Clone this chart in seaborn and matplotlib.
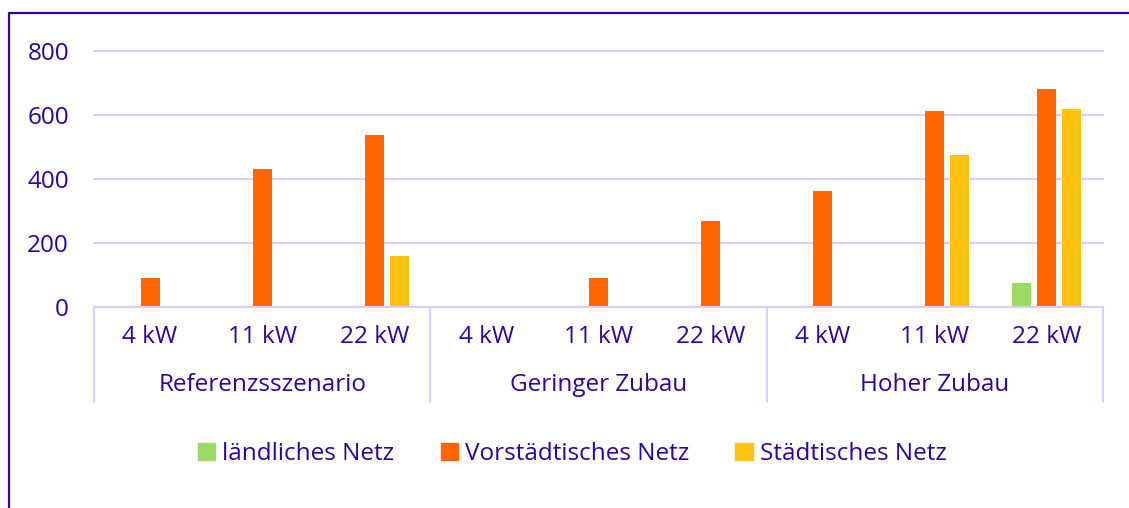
import pandas as pd
import matplotlib.pyplot as plt
import matplotlib.transforms as mtransforms
from matplotlib.lines import Line2D
import seaborn as sns

# chart data
scenarios = ["Referenzsszenario", "Geringer Zubau", "Hoher Zubau"]
power_levels = ["4 kW", "11 kW", "22 kW"]
networks = ["ländliches Netz", "Vorstädtisches Netz", "Städtisches Netz"]

laendlich = [0, 0, 0, 0, 0, 0, 0, 0, 75]
vorstaedtisch = [90, 430, 537, 0, 90, 270, 362, 612, 681]
staedtisch = [0, 0, 160, 0, 0, 0, 0, 475, 619]

y_ticks = [0, 200, 400, 600, 800]

colors = ["#9BDB63", "#FF6600", "#FFC20E"]
text_color = "#330099"
grid_color = "#DDCCFF"
fs = 17.5

# long table for seaborn
cats = [f"{s}|{p}" for s in scenarios for p in power_levels]
rows = []
for name, vals in zip(networks, [laendlich, vorstaedtisch, staedtisch]):
    for c, v in zip(cats, vals):
        rows.append({"cat": c, "network": name, "value": v})
df = pd.DataFrame(rows)

sns.set_style("white")
plt.rcParams["font.family"] = ["Open Sans", "DejaVu Sans"]

fig = plt.figure(figsize=(11.29, 5.08), dpi=100)
ax = fig.add_axes([94 / 1129, 1 - 307 / 508, 1009 / 1129, 256 / 508])

sns.barplot(data=df, x="cat", y="value", hue="network", order=cats,
            hue_order=networks, palette=colors, width=0.67, gap=0.24,
            linewidth=0, saturation=1, ax=ax, legend=False)

ax.set_xlim(-0.5, len(cats) - 0.5)
ax.set_ylim(0, 800)
ax.set_yticks(y_ticks)
ax.set_yticklabels([str(t) for t in y_ticks], color=text_color, fontsize=fs)
ax.tick_params(axis="y", length=0, pad=18)
ax.set_xticks([])
ax.set_xlabel("")
ax.set_ylabel("")
for side in ["top", "right", "left"]:
    ax.spines[side].set_visible(False)
ax.spines["bottom"].set_color(grid_color)
ax.spines["bottom"].set_linewidth(1.5)
ax.yaxis.grid(True, color=grid_color, linewidth=1.5)
for gl in ax.get_ygridlines():
    gl.set_clip_on(False)
ax.set_axisbelow(True)

# category labels below axis
trans = mtransforms.blended_transform_factory(ax.transData, ax.transAxes)
for i, c in enumerate(cats):
    ax.text(i, -0.117, c.split("|")[1], transform=trans, ha="center",
            va="center", color=text_color, fontsize=fs)
for j, s in enumerate(scenarios):
    ax.text(j * 3 + 1, -0.305, s, transform=trans, ha="center",
            va="center", color=text_color, fontsize=fs)
for k in range(len(scenarios) + 1):
    ax.plot([k * 3 - 0.5, k * 3 - 0.5], [0, -0.371], transform=trans,
            color=grid_color, linewidth=1.5, clip_on=False)

# legend
handles = [plt.Rectangle((0, 0), 1, 1, color=c) for c in colors]
fig.legend(handles, networks, loc="center", bbox_to_anchor=(0.507, 0.106),
           ncol=3, frameon=False, fontsize=fs, labelcolor=text_color,
           handlelength=0.7, handleheight=0.7, handletextpad=0.3,
           columnspacing=1.9)

# frame lines (left and top)
x0 = 9 / 1129
y0 = 1 - 13 / 508
fig.add_artist(Line2D([x0, x0, 1], [0, y0, y0], color=text_color,
                      linewidth=1.6, transform=fig.transFigure))

fig.savefig("out.png", dpi=100)
plt.close(fig)
